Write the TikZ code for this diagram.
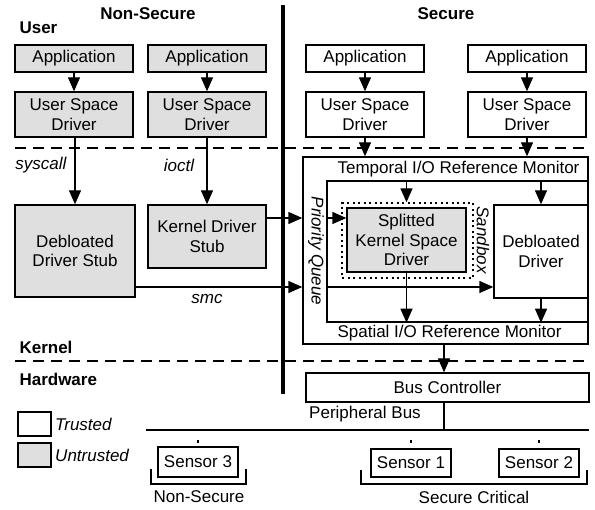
\documentclass[tikz,border=0pt]{standalone}
\usepackage{fontspec}
\setmainfont{Liberation Sans}
\usepackage{tikz}
\usetikzlibrary{arrows.meta, shapes, positioning}
\tikzstyle{trusted} = [draw=black, line width=1.4pt, fill=white, align=center, inner sep=0]
\tikzstyle{untrusted} = [trusted, fill=gray!25]
\tikzstyle{annot} = [font=\fontsize{17}{19.5}\itshape]
\tikzstyle{heading} = [font=\fontsize{17}{19.5}\bfseries]
\tikzstyle{flow} = [line width=1.4pt, -{Triangle[length=14pt, width=12pt]}]
\tikzstyle{layer} = [line width=1.4pt, dash pattern=on 11pt off 7pt]
\tikzstyle{stub} = [line width=1.2pt, dash pattern=on 0pt off 10pt on 3pt off 20pt]

\begin{document}
\begin{tikzpicture}[x=1pt, y=-1pt, font=\fontsize{17}{19.5}\selectfont]
				\useasboundingbox (0, 0) rectangle (595, 510);

				\node (NonSecure) [heading] at (148, 14) {Non-Secure};
				\node (Secure) [heading] at (446, 14) {Secure};
				\node (User) [heading, anchor=west] at (16, 28) {User};
				\node (Kernel) [heading, anchor=west] at (16, 347) {Kernel};
				\node (Hardware) [heading, anchor=west] at (16, 379) {Hardware};

				% world split and layers
				\coordinate (SplitTop) at (283, 5);
				\coordinate (SplitBot) at (283, 394);
				\draw [line width=3.5pt] (SplitTop) -- (SplitBot);
				\coordinate (UserL) at (15, 148);
				\coordinate (UserR) at (590, 148);
				\draw [layer] (UserL) -- (UserR);
				\coordinate (KernelL) at (15, 361);
				\coordinate (KernelR) at (590, 361);
				\draw [layer] (KernelL) -- (KernelR);

				% non-secure side
				\node (App1) [untrusted, minimum width=118, minimum height=27] at (74, 58.5) {Application};
				\node (App2) [untrusted, minimum width=118, minimum height=27] at (207, 58.5) {Application};
				\node (USD1) [untrusted, minimum width=118, minimum height=45] at (74, 114.5) {User Space\\Driver};
				\node (USD2) [untrusted, minimum width=118, minimum height=45] at (207, 114.5) {User Space\\Driver};
				\draw [flow] (App1) -- (USD1);
				\draw [flow] (App2) -- (USD2);

				\node (DDS) [untrusted, minimum width=120, minimum height=92] at (75, 251) {Debloated\\Driver Stub};
				\node (KDS) [untrusted, minimum width=118, minimum height=63] at (207, 236.5) {Kernel Driver\\Stub};
				\draw [flow] (USD1.south -| DDS) -- (DDS);
				\draw [flow] (USD2) -- (KDS);
				\node (Syscall) [annot] at (41, 165) {syscall};
				\node (Ioctl) [annot] at (179, 165) {ioctl};

				% secure side
				\node (App3) [trusted, minimum width=118, minimum height=27] at (365, 58.5) {Application};
				\node (App4) [trusted, minimum width=118, minimum height=27] at (527, 58.5) {Application};
				\node (USD3) [trusted, minimum width=118, minimum height=45] at (365, 114.5) {User Space\\Driver};
				\node (USD4) [trusted, minimum width=118, minimum height=45] at (527, 114.5) {User Space\\Driver};
				\draw [flow] (App3) -- (USD3);
				\draw [flow] (App4) -- (USD4);

				\node (Monitor) [trusted, minimum width=285, minimum height=187] at (445.5, 250.5) {};
				\node (Inner) [trusted, minimum width=261, minimum height=141] at (457.5, 251.5) {};
				\node (Temporal) [anchor=west] at (334, 169) {Temporal I/O Reference Monitor};
				\node (Spatial) [anchor=west] at (334, 333) {Spatial I/O Reference Monitor};
				\node (Queue) [annot, rotate=-90] at (316, 251) {Priority Queue};
				\draw [flow] (USD3) -- (USD3 |- Monitor.north);
				\draw [flow] (USD4) -- (USD4 |- Monitor.north);

				\node (Sandbox) [draw, line width=1.4pt, dash pattern=on 2pt off 3.5pt, minimum width=131, minimum height=75] at (407.5, 240.5) {};
				\node (SandboxText) [annot, rotate=-90] at (483, 240) {Sandbox};
				\node (SKSD) [untrusted, minimum width=119, minimum height=64] at (406.5, 240) {Splitted\\Kernel Space\\Driver};
				\node (DD) [trusted, minimum width=94, minimum height=93] at (541, 251.5) {Debloated\\Driver};

				% calls into the secure world
				\coordinate (RowA) at (0, 218);
				\coordinate (RowB) at (0, 287);
				\draw [flow] (KDS.east |- RowA) -- (Monitor.west |- RowA);
				\draw [flow] (DDS.east |- RowB) -- (Monitor.west |- RowB);
				\node (Smc) [annot] at (207, 299) {smc};
				\draw [flow] (Inner.west |- RowA) -- (SKSD.west |- RowA);
				\draw [flow] (Inner.west |- RowB) -- (DD.west |- RowB);
				\draw [flow] (Inner.north -| SKSD) -- (Sandbox.north -| SKSD);
				\draw [flow] (Inner.north -| DD) -- (DD.north);
				\draw [flow] (SKSD.south) -- (Inner.south -| SKSD);
				\draw [flow] (DD.south) -- (Inner.south -| DD);
				\coordinate (MonOut) at (444, 344);

				% hardware
				\node (BusCtrl) [trusted, minimum width=283, minimum height=29] at (447.5, 387.5) {Bus Controller};
				\draw [flow] (MonOut) -- (MonOut |- BusCtrl.north);
				\coordinate (BusL) at (146, 430);
				\coordinate (BusR) at (589, 430);
				\draw [line width=1.4pt] (BusL) -- (BusR);
				\draw [line width=1.4pt] (MonOut |- BusCtrl.south) -- (MonOut |- BusL);
				\node (Peripheral) at (365, 414) {Peripheral Bus};

				\node (Sensor3) [trusted, minimum width=80, minimum height=30] at (198, 462) {Sensor 3};
				\node (Sensor1) [trusted, minimum width=80, minimum height=28] at (411, 463) {Sensor 1};
				\node (Sensor2) [trusted, minimum width=80, minimum height=28] at (539, 463) {Sensor 2};
				\draw [stub] (Sensor3.north |- BusL) -- (Sensor3.north);
				\draw [stub] (Sensor1.north |- BusL) -- (Sensor1.north);
				\draw [stub] (Sensor2.north |- BusL) -- (Sensor2.north);

				\coordinate (NsL) at (151, 469);
				\coordinate (NsR) at (246, 469);
				\draw [line width=1.4pt] (NsL) -- ++(0, 15) -| (NsR);
				\node (NsText) at (199, 497) {Non-Secure};
				\coordinate (ScL) at (361, 470);
				\coordinate (ScR) at (587, 470);
				\draw [line width=1.4pt] (ScL) -- ++(0, 14) -| (ScR);
				\node (ScText) at (474, 497) {Secure Critical};

				% legend
				\node (TrustedKey) [trusted, minimum width=33, minimum height=24] at (34.5, 424) {};
				\node (TrustedText) [annot, anchor=west] at (TrustedKey.east) {Trusted};
				\node (UntrustedKey) [untrusted, minimum width=33, minimum height=24] at (34.5, 455) {};
				\node (UntrustedText) [annot, anchor=west] at (UntrustedKey.east) {Untrusted};
\end{tikzpicture}
\end{document}
